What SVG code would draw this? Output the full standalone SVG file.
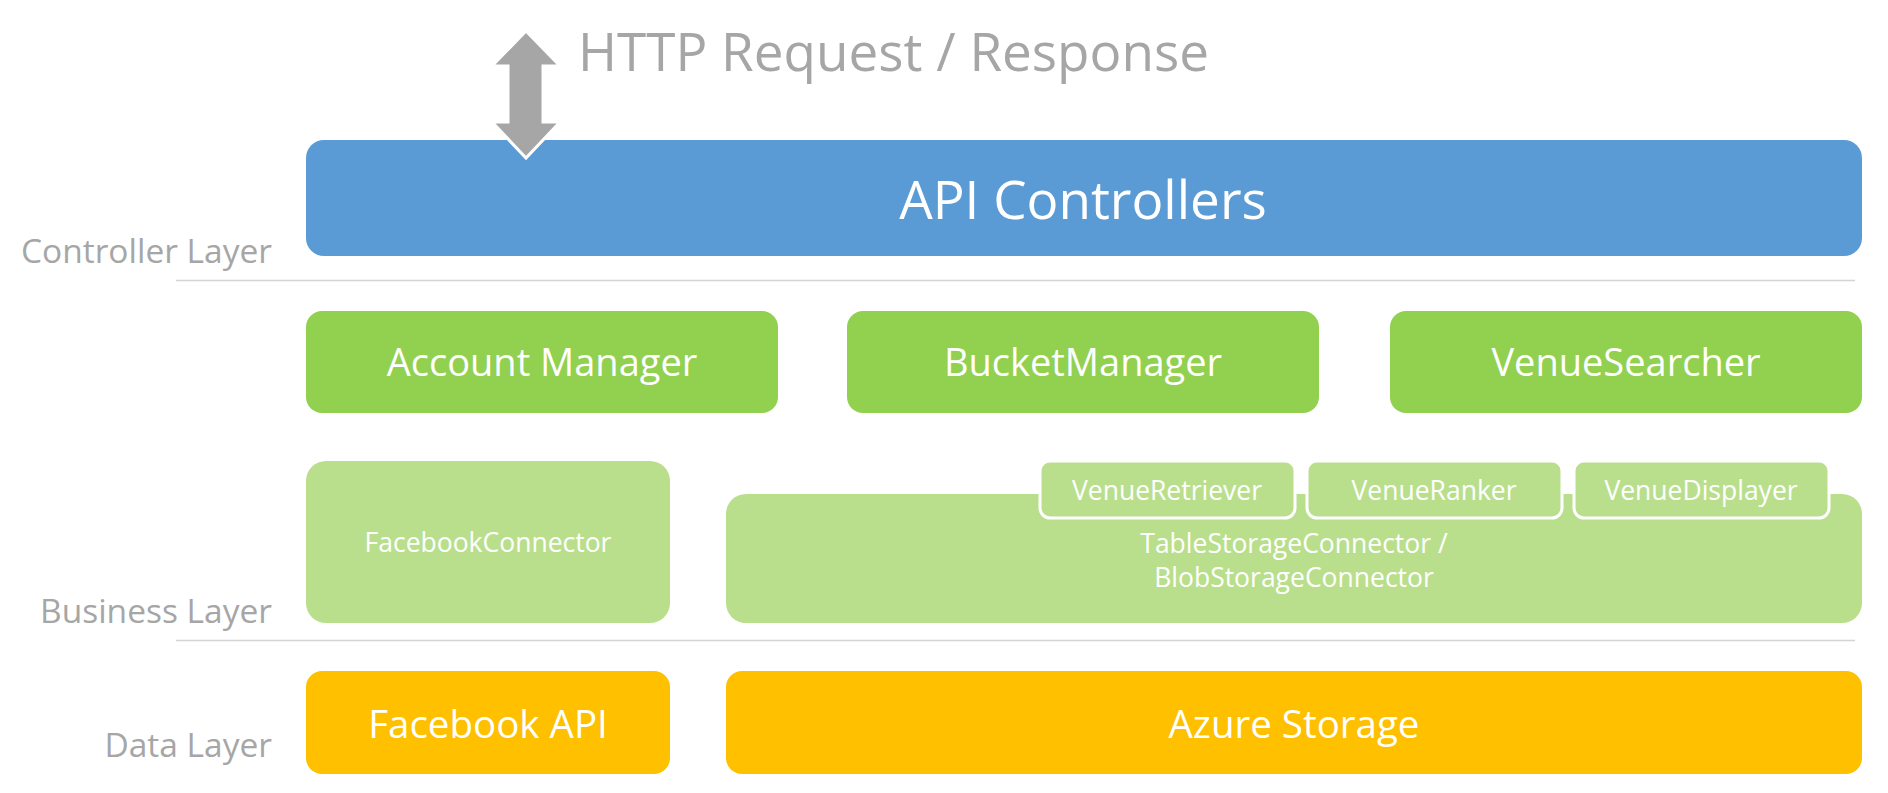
<svg xmlns="http://www.w3.org/2000/svg" width="1888" height="793" viewBox="0 0 1888 793">
<style>
text{font-family:"Open Sans","Noto Sans","Liberation Sans",sans-serif;}
.w{fill:#ffffff;text-anchor:middle;}
.lbl{fill:#a6a6a6;text-anchor:end;font-size:33.5px;}
.sep{stroke:#d4d4d4;stroke-width:1.5;}
.blue{fill:#5b9bd5;}
.green{fill:#92d050;}
.lg{fill:#b9df8c;}
.sub{fill:#b9df8c;stroke:#ffffff;stroke-width:3;}
.org{fill:#ffc000;}
.m{font-size:38px;}
.s{font-size:26.5px;}
.d{font-size:38.5px;}
</style>
<rect width="1888" height="793" fill="#ffffff"/>
<g id="layer-labels">
<text class="lbl" x="272" y="263">Controller Layer</text>
<text class="lbl" x="272" y="623">Business Layer</text>
<text class="lbl" x="272" y="757">Data Layer</text>
<line class="sep" x1="176" y1="280.5" x2="1855" y2="280.5"/>
<line class="sep" x1="176" y1="640.5" x2="1855" y2="640.5"/>
</g>
<g id="api-controllers">
<rect class="blue" x="306" y="140" width="1556" height="116" rx="18"/>
<text class="w" x="1083" y="219" font-size="53">API Controllers</text>
</g>
<g id="account-manager">
<rect class="green" x="306" y="311" width="472" height="102" rx="16"/>
<text class="w m" x="542" y="376">Account Manager</text>
</g>
<g id="bucket-manager">
<rect class="green" x="847" y="311" width="472" height="102" rx="16"/>
<text class="w m" x="1083" y="376">BucketManager</text>
</g>
<g id="venue-searcher">
<rect class="green" x="1390" y="311" width="472" height="102" rx="16"/>
<text class="w m" x="1626" y="376">VenueSearcher</text>
</g>
<g id="facebook-connector">
<rect class="lg" x="306" y="461" width="364" height="162" rx="20"/>
<text class="w s" x="488" y="552">FacebookConnector</text>
</g>
<g id="storage-connector">
<rect class="lg" x="726" y="494" width="1136" height="129" rx="20"/>
<text class="w s" x="1294" y="553">TableStorageConnector /</text>
<text class="w s" x="1294" y="587">BlobStorageConnector</text>
</g>
<g id="venue-retriever">
<rect class="sub" x="1040" y="461" width="255" height="57" rx="10"/>
<text class="w s" x="1167" y="500">VenueRetriever</text>
</g>
<g id="venue-ranker">
<rect class="sub" x="1307" y="461" width="255" height="57" rx="10"/>
<text class="w s" x="1434" y="500">VenueRanker</text>
</g>
<g id="venue-displayer">
<rect class="sub" x="1574" y="461" width="255" height="57" rx="10"/>
<text class="w s" x="1701" y="500">VenueDisplayer</text>
</g>
<g id="facebook-api">
<rect class="org" x="306" y="671" width="364" height="103" rx="16"/>
<text class="w d" x="488" y="738">Facebook API</text>
</g>
<g id="azure-storage">
<rect class="org" x="726" y="671" width="1136" height="103" rx="16"/>
<text class="w d" x="1294" y="738">Azure Storage</text>
</g>
<g id="connectors">
<polygon points="526,31 560,66 543,66 543,122 560,122 526,158 492,122 508,122 508,66 492,66" fill="#a6a6a6" stroke="#ffffff" stroke-width="3" stroke-linejoin="miter"/>
<text x="578" y="71" font-size="53" fill="#a6a6a6">HTTP Request / Response</text>
</g>
</svg>
